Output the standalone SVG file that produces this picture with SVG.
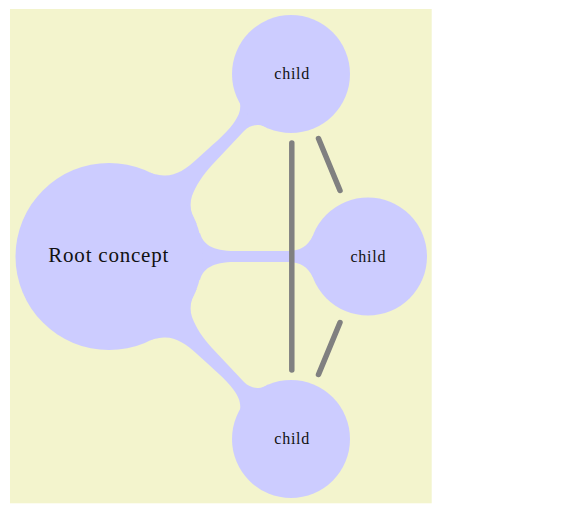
<svg xmlns="http://www.w3.org/2000/svg" xmlns:xlink="http://www.w3.org/1999/xlink" width="588" height="511" viewBox="0 0 588 511">
<style>
.bg{fill:#f3f4cd}
.concept{fill:#ccccff}
.bar{fill:#ccccff}
.rel{stroke:#808080;stroke-width:5.5;stroke-linecap:round;fill:none}
.root-t{font-family:"Liberation Serif","DejaVu Serif",serif;font-size:21px;fill:#111;text-anchor:middle}
.child-t{font-family:"Liberation Serif","DejaVu Serif",serif;font-size:16px;fill:#111;text-anchor:middle}
</style>
<defs>
<path id="barTop" d="M150,172.5 C152,173.5 157,175 164,175.5 C176,176 186,169 197,159 C211,146 226,134 233,124 C239,116 241,110 240,103 L285,95 L268,128.5 C264,126 261,124.5 257,125 C252,125.5 248,127 244,131 L212,165 C203,175 196,185 192,196 C189,205 191,215 196.7,224 L140,220 Z"/>
</defs>
<rect class="bg" x="10" y="9" width="421.7" height="494.3"/>
<g id="connectors">
<use xlink:href="#barTop" href="#barTop" class="bar"/>
<path class="bar" d="M200,233 C203,244 212,251 235,251 L288,251 C300,251 308,246 312.7,236 L330,256.5 L312.7,277 C308,267 300,262 288,262 L235,262 C212,262 203,269 200,280 L150,256.5 Z"/>
<use xlink:href="#barTop" href="#barTop" class="bar" transform="matrix(1,0,0,-1,0,513)"/>
<line class="rel" x1="291.8" y1="143" x2="291.8" y2="370"/>
<line class="rel" x1="318.5" y1="138.5" x2="340" y2="190.5"/>
<line class="rel" x1="318.5" y1="374.5" x2="340" y2="322.5"/>
</g>
<g id="root">
<circle class="concept" cx="109" cy="256.5" r="93.5"/>
<text class="root-t" x="108.3" y="261.7" textLength="120" lengthAdjust="spacing">Root concept</text>
</g>
<g id="child-top">
<circle class="concept" cx="291" cy="74" r="59"/>
<text class="child-t" x="291.8" y="79.3" textLength="35" lengthAdjust="spacing">child</text>
</g>
<g id="child-mid">
<circle class="concept" cx="368" cy="256.5" r="59"/>
<text class="child-t" x="368" y="261.8" textLength="35" lengthAdjust="spacing">child</text>
</g>
<g id="child-bottom">
<circle class="concept" cx="291" cy="439" r="59"/>
<text class="child-t" x="291.8" y="444.3" textLength="35" lengthAdjust="spacing">child</text>
</g>
</svg>
